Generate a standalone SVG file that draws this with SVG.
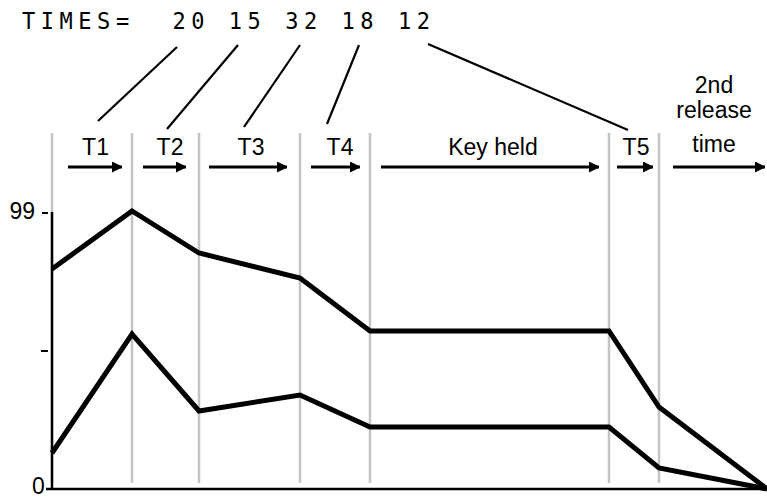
<svg xmlns="http://www.w3.org/2000/svg" width="767" height="498" viewBox="0 0 767 498">
<style>
.lbl{font-family:"Liberation Sans",Arial,sans-serif;font-size:23px;fill:#000}
.mono{font-family:"DejaVu Sans Mono","Liberation Mono",monospace;font-size:22px;fill:#000;letter-spacing:5.55px}
.grid{stroke:#c4c4c4;stroke-width:2.5;fill:none}
.axis{stroke:#000;stroke-width:2.5;fill:none}
.tick{stroke:#000;stroke-width:2;fill:none}
.lead{stroke:#000;stroke-width:2.2;fill:none}
.arr{stroke:#000;stroke-width:3;fill:none;marker-end:url(#ah)}
.curve{stroke:#000;stroke-width:5;fill:none;stroke-linejoin:miter}
</style>
<defs>
<marker id="ah" markerUnits="userSpaceOnUse" viewBox="0 0 10 10" refX="10" refY="5" markerWidth="10" markerHeight="11" orient="auto">
<path d="M0,0 L10,5 L0,10 z" fill="#000" stroke="#000" stroke-width="1" stroke-linejoin="round"/>
</marker>
</defs>
<rect width="767" height="498" fill="#fff"/>
<g id="header">
<text class="mono" y="29" transform="translate(0,29) scale(1,1.08) translate(0,-29)"><tspan x="22">TIMES=</tspan><tspan x="172.4">20</tspan><tspan x="228.8">15</tspan><tspan x="285.2">32</tspan><tspan x="341.6">18</tspan><tspan x="398">12</tspan></text>
</g>
<g id="grid">
<line class="grid" x1="52" y1="133" x2="52" y2="483"/>
<line class="grid" x1="132" y1="133" x2="132" y2="483"/>
<line class="grid" x1="199" y1="133" x2="199" y2="483"/>
<line class="grid" x1="300" y1="133" x2="300" y2="483"/>
<line class="grid" x1="370" y1="133" x2="370" y2="483"/>
<line class="grid" x1="609" y1="133" x2="609" y2="483"/>
<line class="grid" x1="659" y1="133" x2="659" y2="483"/>
</g>
<g id="axes">
<line class="axis" x1="52" y1="212" x2="52" y2="489"/>
<line class="axis" x1="46" y1="489" x2="767" y2="489"/>
<line class="tick" x1="42" y1="213" x2="48" y2="213"/>
<line class="tick" x1="41" y1="351" x2="48" y2="351"/>
<text class="lbl" x="35" y="219" text-anchor="end">99</text>
<text class="lbl" x="32" y="494" font-size="21">0</text>
</g>
<g id="labels">
<text class="lbl" x="95.5" y="155" text-anchor="middle">T1</text>
<text class="lbl" x="170" y="155" text-anchor="middle">T2</text>
<text class="lbl" x="251" y="155" text-anchor="middle">T3</text>
<text class="lbl" x="340" y="155" text-anchor="middle">T4</text>
<text class="lbl" x="493" y="155" text-anchor="middle">Key held</text>
<text class="lbl" x="636" y="155" text-anchor="middle">T5</text>
<text class="lbl" x="714" y="93" text-anchor="middle">2nd</text>
<text class="lbl" x="714" y="118" text-anchor="middle">release</text>
<text class="lbl" x="714" y="152" text-anchor="middle">time</text>
</g>
<g id="connectors">
<line class="lead" x1="177" y1="47" x2="98" y2="121"/>
<line class="lead" x1="238" y1="45" x2="167" y2="129"/>
<line class="lead" x1="300" y1="45" x2="244" y2="127"/>
<line class="lead" x1="359" y1="45" x2="327" y2="124"/>
<line class="lead" x1="428" y1="44" x2="628" y2="130"/>
<line class="arr" x1="68" y1="167" x2="122" y2="167"/>
<line class="arr" x1="143" y1="167" x2="186" y2="167"/>
<line class="arr" x1="209" y1="167" x2="287" y2="167"/>
<line class="arr" x1="311" y1="167" x2="360" y2="167"/>
<line class="arr" x1="381" y1="167" x2="599" y2="167"/>
<line class="arr" x1="617" y1="167" x2="653" y2="167"/>
<line class="arr" x1="673" y1="167" x2="765" y2="167"/>
</g>
<g id="curves">
<polyline class="curve" points="52,269 132,211 199,253 300,278 370,331 609,331 659,407 767,489"/>
<polyline class="curve" points="52,453 132,334 199,411 300,395 370,427 609,427 659,468 767,489"/>
</g>
</svg>
